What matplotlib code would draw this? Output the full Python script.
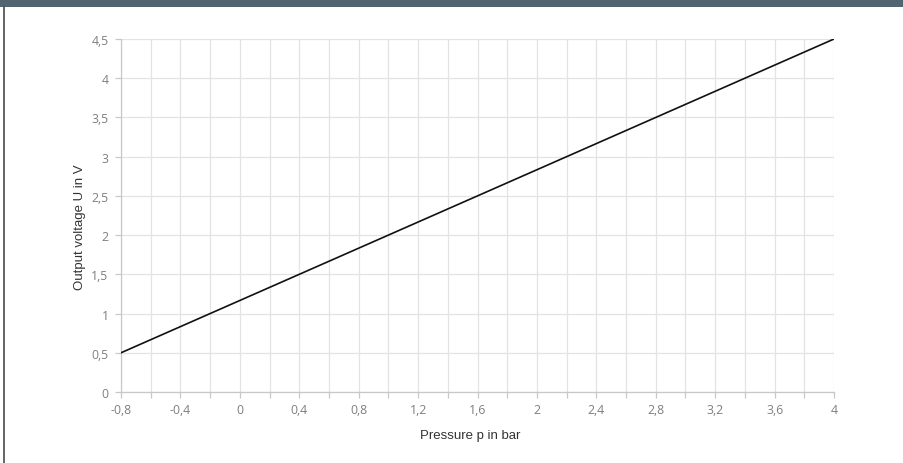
import matplotlib
matplotlib.use("Agg")
import matplotlib.pyplot as plt
from matplotlib.ticker import MultipleLocator
import matplotlib.patches as mpatches
import matplotlib.lines as mlines

pressure = [-0.8, 4.0]
voltage = [0.5, 4.5]
x_ticks = [-0.8, -0.4, 0, 0.4, 0.8, 1.2, 1.6, 2, 2.4, 2.8, 3.2, 3.6, 4]
y_ticks = [0, 0.5, 1, 1.5, 2, 2.5, 3, 3.5, 4, 4.5]

W, H = 904, 464
fig = plt.figure(figsize=(W / 100, H / 100), dpi=100)
fig.patch.set_facecolor("white")

# header bar and left border
fig.add_artist(mpatches.Rectangle((0, 1 - 8 / H), 1, 8 / H, transform=fig.transFigure,
                                  facecolor="#52646f", edgecolor="none"))
fig.add_artist(mlines.Line2D([4.5 / W, 4.5 / W], [0, 1 - 8 / H], transform=fig.transFigure,
                             color="#4a4a4a", lw=1.2))

ax = fig.add_axes([121 / W, 1 - 393 / H, (834 - 121) / W, (393 - 40) / H])
ax.plot(pressure, voltage, color="#111111", lw=1.2, zorder=3)

ax.set_xlim(-0.8, 4)
ax.set_ylim(0, 4.5)

def fmt(v):
    s = ("%.1f" % v).rstrip("0").rstrip(".")
    if s == "-0":
        s = "0"
    return s.replace(".", ",")

ax.set_xticks(x_ticks)
ax.set_xticklabels([fmt(v) for v in x_ticks])
ax.xaxis.set_minor_locator(MultipleLocator(0.2))
ax.set_yticks(y_ticks)
ax.set_yticklabels([fmt(v) for v in y_ticks])

ax.grid(True, which="both", axis="x", color="#e3e3e3", lw=0.9)
ax.grid(True, which="major", axis="y", color="#e3e3e3", lw=0.9)
ax.set_axisbelow(True)

for s in ["top", "right"]:
    ax.spines[s].set_visible(False)
for s in ["left", "bottom"]:
    ax.spines[s].set_color("#c8c8c8")
    ax.spines[s].set_linewidth(0.9)

ax.tick_params(axis="both", which="both", color="#c8c8c8", length=4, width=0.9,
               labelcolor="#7f7f7f", labelsize=8.8)
ax.tick_params(axis="x", pad=4)
ax.tick_params(axis="y", pad=5)
for lab in ax.get_xticklabels() + ax.get_yticklabels():
    lab.set_fontfamily("Open Sans")

fig.text(470 / W, 1 - 436 / H, "Pressure p in bar", ha="center", va="center",
         fontsize=9.5, color="#333333", family="Liberation Sans")
fig.text(80 / W, 1 - 227.5 / H, "Output voltage U in V", ha="center", va="center",
         rotation=90, fontsize=9.5, color="#333333", family="Liberation Sans")

fig.savefig("out.png", dpi=100)
